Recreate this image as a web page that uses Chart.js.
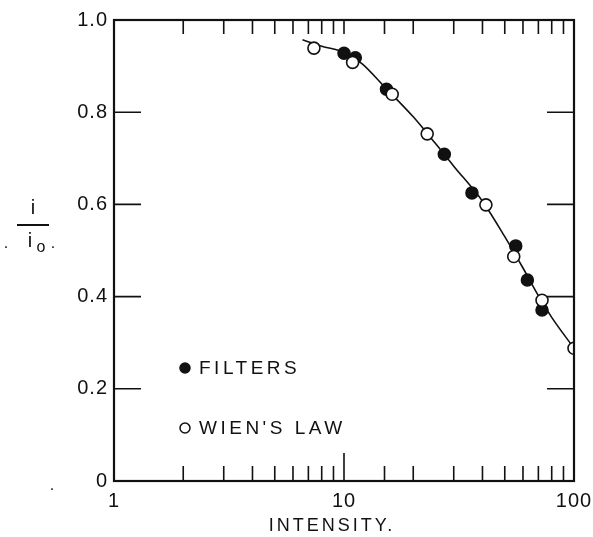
<!DOCTYPE html>
<html>
<head>
<meta charset="utf-8">
<script src="https://cdn.jsdelivr.net/npm/chart.js@4.4.1/dist/chart.umd.min.js"></script>
<style>
	body { margin: 0; background: #fff; }
	#wrap { width: 593px; height: 537px; position: relative; }
</style>
</head>
<body>
<div id="wrap"><canvas id="chart"></canvas></div>
<script>
// Filters (filled points)
var filtersX = [10.0, 11.2, 15.3, 27.3, 36.0, 55.8, 62.7, 72.6];
var filtersY = [0.928, 0.918, 0.850, 0.709, 0.625, 0.510, 0.436, 0.371];
// Wien's law (open points)
var wienX = [7.4, 10.9, 16.2, 23.0, 41.4, 54.7, 72.6, 100];
var wienY = [0.939, 0.908, 0.839, 0.753, 0.599, 0.487, 0.392, 0.288];
// smooth curve drawn through the points
var curveX = [6.6, 8, 10, 12, 15, 20, 25, 30, 40, 50, 60, 70, 80, 100];
var curveY = [0.957, 0.943, 0.930, 0.905, 0.855, 0.790, 0.732, 0.683, 0.607, 0.530, 0.462, 0.402, 0.355, 0.288];
// axis tick labels
var xLabels = [1, 10, 100];
var yTicks = [0, 0.2, 0.4, 0.6, 0.8, 1.0];

var FONT = "'Liberation Sans', Arial, sans-serif";

function pts(xs, ys) {
	return xs.map(function (x, i) { return { x: x, y: ys[i] }; });
}

// frame, inward ticks, y title and legend
var paperPlugin = {
	id: 'paper',
	beforeDraw: function (chart) {
		var ctx = chart.ctx;
		ctx.letterSpacing = '1px';
		// wider spacing for the x title only, sitting a bit left of centre
		var xs = chart.scales.x;
		if (!xs._spaced) {
			var orig = xs.drawTitle;
			xs.drawTitle = function () {
				ctx.save();
				ctx.letterSpacing = '3px';
				ctx.translate(-12, 0);
				orig.apply(this, arguments);
				ctx.restore();
			};
			xs._spaced = true;
		}
	},
	afterDraw: function (chart) {
		var ctx = chart.ctx;
		var a = chart.chartArea;
		var xs = chart.scales.x, ys = chart.scales.y;
		ctx.save();
		ctx.strokeStyle = '#111';
		ctx.fillStyle = '#111';

		// frame
		ctx.lineWidth = 2.2;
		ctx.strokeRect(a.left, a.top, a.right - a.left, a.bottom - a.top);

		// x ticks (log minor ticks top and bottom)
		ctx.lineWidth = 1.6;
		xs.ticks.forEach(function (t) {
			if (t.value <= 1 || t.value >= 100) return;
			var px = xs.getPixelForValue(t.value);
			var len = t.value === 10 ? 28 : 15;
			ctx.beginPath();
			ctx.moveTo(px, a.bottom);
			ctx.lineTo(px, a.bottom - len);
			ctx.moveTo(px, a.top);
			ctx.lineTo(px, a.top + 14);
			ctx.stroke();
		});

		// y ticks left and right
		yTicks.forEach(function (v) {
			if (v <= 0 || v >= 1) return;
			var py = ys.getPixelForValue(v);
			ctx.beginPath();
			ctx.moveTo(a.left, py);
			ctx.lineTo(a.left + 27, py);
			ctx.moveTo(a.right, py);
			ctx.lineTo(a.right - 27, py);
			ctx.stroke();
		});

		// y title  i / i0.
		ctx.textAlign = 'center';
		ctx.textBaseline = 'middle';
		ctx.letterSpacing = '0px';
		ctx.font = '20px ' + FONT;
		ctx.fillText('i', 33, 208);
		ctx.lineWidth = 2;
		ctx.beginPath();
		ctx.moveTo(17, 225);
		ctx.lineTo(49, 225);
		ctx.stroke();
		ctx.fillText('i', 30, 241);
		ctx.font = '16px ' + FONT;
		ctx.fillText('o', 41, 248);
		ctx.fillText('.', 53, 244);
		ctx.fillText('.', 6, 244);
		ctx.fillText('.', 52, 486);

		// legend
		ctx.letterSpacing = '3.5px';
		ctx.textAlign = 'left';
		ctx.font = '19px ' + FONT;
		var ly = 368;
		chart.data.datasets.forEach(function (ds) {
			if (!ds.showInLegend) return;
			ctx.beginPath();
			ctx.arc(185, ly, 5, 0, Math.PI * 2);
			ctx.fillStyle = ds.backgroundColor;
			ctx.fill();
			ctx.lineWidth = 1.5;
			ctx.strokeStyle = '#111';
			ctx.stroke();
			ctx.fillStyle = '#111';
			ctx.fillText(ds.label, 199, ly + 1);
			ly += 60;
		});
		ctx.restore();
	}
};

var chart = new Chart(document.getElementById('chart'), {
	type: 'scatter',
	data: {
		datasets: [
			{
				label: 'curve',
				type: 'line',
				data: pts(curveX, curveY),
				borderColor: '#111',
				borderWidth: 1.6,
				pointRadius: 0,
				cubicInterpolationMode: 'monotone',
				fill: false,
				order: 3
			},
			{
				label: 'FILTERS',
				showInLegend: true,
				data: pts(filtersX, filtersY),
				backgroundColor: '#111',
				borderColor: '#111',
				borderWidth: 1.5,
				pointRadius: 6,
				order: 2
			},
			{
				label: "WIEN'S LAW",
				showInLegend: true,
				data: pts(wienX, wienY),
				backgroundColor: '#fff',
				borderColor: '#111',
				borderWidth: 1.6,
				pointRadius: 6,
				order: 1
			}
		]
	},
	options: {
		responsive: true,
		maintainAspectRatio: false,
		animation: false,
		layout: { padding: { left: 0, right: 19, top: 20, bottom: 0 } },
		plugins: {
			legend: { display: false },
			tooltip: { enabled: false }
		},
		scales: {
			x: {
				type: 'logarithmic',
				min: 1,
				max: 100,
				grid: { display: false, drawTicks: false },
				border: { display: false },
				ticks: {
					autoSkip: false,
					maxRotation: 0,
					padding: 8,
					color: '#111',
					font: { family: FONT, size: 20 },
					callback: function (v) {
						return xLabels.indexOf(v) >= 0 ? String(v) : '';
					}
				},
				title: {
					display: true,
					text: 'INTENSITY.',
					color: '#111',
					font: { family: FONT, size: 18 },
					padding: { top: 0, bottom: 0 }
				},
				afterFit: function (s) {
					s.height = 56;
					s.paddingLeft = 0;
					s.paddingRight = 0;
				}
			},
			y: {
				min: 0,
				max: 1,
				grid: { display: false, drawTicks: false },
				border: { display: false },
				ticks: {
					stepSize: 0.2,
					padding: 6,
					color: '#111',
					font: { family: FONT, size: 20 },
					callback: function (v) {
						return v === 0 ? '0' : v.toFixed(1);
					}
				},
				afterFit: function (s) {
					s.width = 114;
					s.paddingTop = 0;
					s.paddingBottom = 0;
				}
			}
		}
	},
	plugins: [paperPlugin]
});
</script>
</body>
</html>
